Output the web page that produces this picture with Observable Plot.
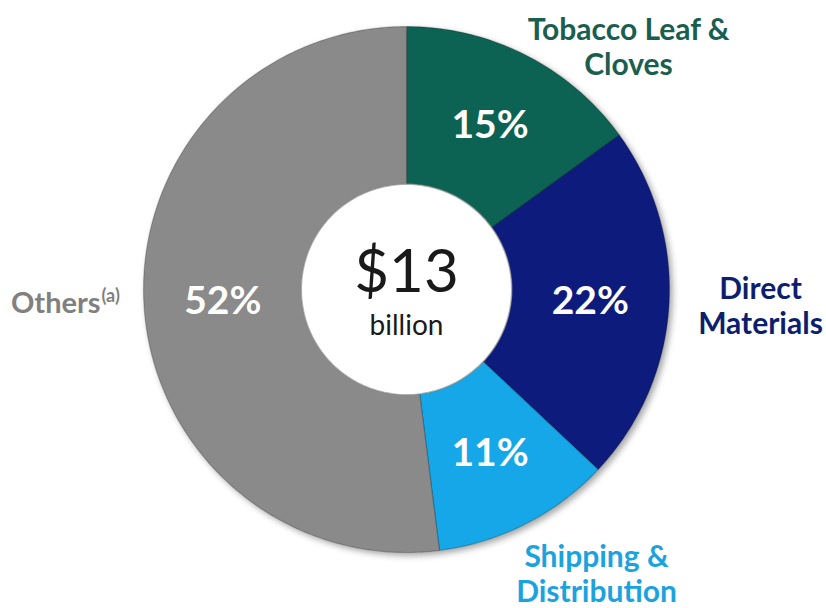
<!DOCTYPE html>
<html>
<head>
<meta charset="utf-8">
<script src="https://cdn.jsdelivr.net/npm/d3@7"></script>
<script src="https://cdn.jsdelivr.net/npm/@observablehq/plot@0.6"></script>
<style>
  html, body { margin: 0; padding: 0; background: #fff; }
  #chart { width: 826px; height: 608px; }
</style>
</head>
<body>
<div id="chart"></div>
<script>
// ---- data ----
const categories = ["Tobacco Leaf & Cloves", "Direct Materials", "Shipping & Distribution", "Others"];
const shares = [15, 22, 11, 52];
const labelLines = ["Tobacco Leaf &\nCloves", "Direct\nMaterials", "Shipping &\nDistribution", "Others"];
const sliceColors = ["#0a6352", "#0c1f7c", "#12a7e8", "#8a8a8a"];
const labelColors = ["#1a5e50", "#0c1f6e", "#1ba3e0", "#808080"];
const totalLabel = "$13";
const unitLabel = "billion";

// ---- geometry (pixels) ----
const W = 826, H = 608, CX = 406, CY = 289, R = 263, RIN = 0.40; // inner radius as fraction of outer
const toX = p => (p - CX) / R, toY = p => (CY - p) / R;

const pie = d3.pie().sort(null).value(d => d.value);
const arcs = pie(categories.map((c, i) => ({cat: c, value: shares[i], i})));

// polygon points for each slice in data units (angle clockwise from north)
const pts = [];
arcs.forEach(a => {
  const n = Math.max(8, Math.ceil((a.endAngle - a.startAngle) * 60));
  const ring = [];
  for (let k = 0; k <= n; k++) {
    const t = a.startAngle + (a.endAngle - a.startAngle) * k / n;
    ring.push([Math.sin(t), Math.cos(t)]);
  }
  for (let k = n; k >= 0; k--) {
    const t = a.startAngle + (a.endAngle - a.startAngle) * k / n;
    ring.push([RIN * Math.sin(t), RIN * Math.cos(t)]);
  }
  ring.push(ring[0]);
  ring.forEach(([x, y]) => pts.push({cat: a.data.cat, x, y}));
});

const holePts = d3.range(0, 361, 2).map(d => {
  const t = d * Math.PI / 180;
  return {x: RIN * Math.sin(t), y: RIN * Math.cos(t)};
});

const centroidR = (1 + RIN) / 2;
const pctLabels = arcs.map(a => {
  const m = (a.startAngle + a.endAngle) / 2;
  return {x: centroidR * Math.sin(m), y: centroidR * Math.cos(m), text: a.data.value + "%"};
});

// annotation anchors (pixel)
const annot = [
  {px: 628, py: 46, anchor: "middle"},
  {px: 760, py: 305, anchor: "middle"},
  {px: 596, py: 573, anchor: "middle"},
  {px: 100, py: 303, anchor: "end"}
];
const catLabels = annot.map((a, i) => ({x: toX(a.px), y: toY(a.py), text: labelLines[i], color: labelColors[i], anchor: a.anchor}));

const plot = Plot.plot({
  width: W,
  height: H,
  margin: 0,
  x: {domain: [toX(0), toX(W)], range: [0, W], axis: null},
  y: {domain: [toY(H), toY(0)], range: [H, 0], axis: null},
  color: {domain: categories, range: sliceColors},
  style: {fontFamily: "Lato, 'Open Sans', sans-serif", background: "#fff"},
  marks: [
    Plot.line(pts, {x: "x", y: "y", z: "cat", fill: "cat", stroke: "rgba(0,0,0,0.22)", strokeWidth: 1.2, curve: "linear"}),
    Plot.line(holePts, {x: "x", y: "y", fill: "#fff", stroke: "#9a9a9a", strokeWidth: 1.5, strokeOpacity: 0.7}),
    Plot.text(pctLabels, {x: "x", y: "y", text: "text", fill: "#fff", fontSize: 39, fontWeight: "bold", textAnchor: "middle", lineAnchor: "middle"}),
    Plot.text(catLabels.filter(d => d.anchor === "middle"), {x: "x", y: "y", text: "text", fill: "color", fontSize: 30, fontWeight: "bold", textAnchor: "middle", lineAnchor: "middle", lineHeight: 1.17}),
    Plot.text(catLabels.filter(d => d.anchor === "end"), {x: "x", y: "y", text: "text", fill: "color", fontSize: 29, fontWeight: "bold", textAnchor: "end", lineAnchor: "middle"}),
    Plot.text([{x: toX(100), y: toY(296), t: "(a)"}], {x: "x", y: "y", text: "t", fill: labelColors[3], fontSize: 18, fontWeight: "bold", textAnchor: "start", lineAnchor: "middle", dx: 1}),
    Plot.text([{x: 0, y: toY(272), t: totalLabel}], {x: "x", y: "y", text: "t", fill: "#1a1a1a", fontSize: 60, textAnchor: "middle", lineAnchor: "middle"}),
    Plot.text([{x: 0, y: toY(326), t: unitLabel}], {x: "x", y: "y", text: "t", fill: "#1a1a1a", fontSize: 28, textAnchor: "middle", lineAnchor: "middle"})
  ]
});

// soft drop shadow under the slices
const svg = d3.select(plot);
const defs = svg.insert("defs", ":first-child");
const f = defs.append("filter").attr("id", "sh").attr("x", "-10%").attr("y", "-10%").attr("width", "130%").attr("height", "130%");
f.append("feDropShadow").attr("dx", 3).attr("dy", 3).attr("stdDeviation", 3).attr("flood-color", "#000").attr("flood-opacity", 0.35);
svg.select("g[aria-label='line']").attr("filter", "url(#sh)");

document.getElementById("chart").appendChild(plot);
</script>
</body>
</html>
